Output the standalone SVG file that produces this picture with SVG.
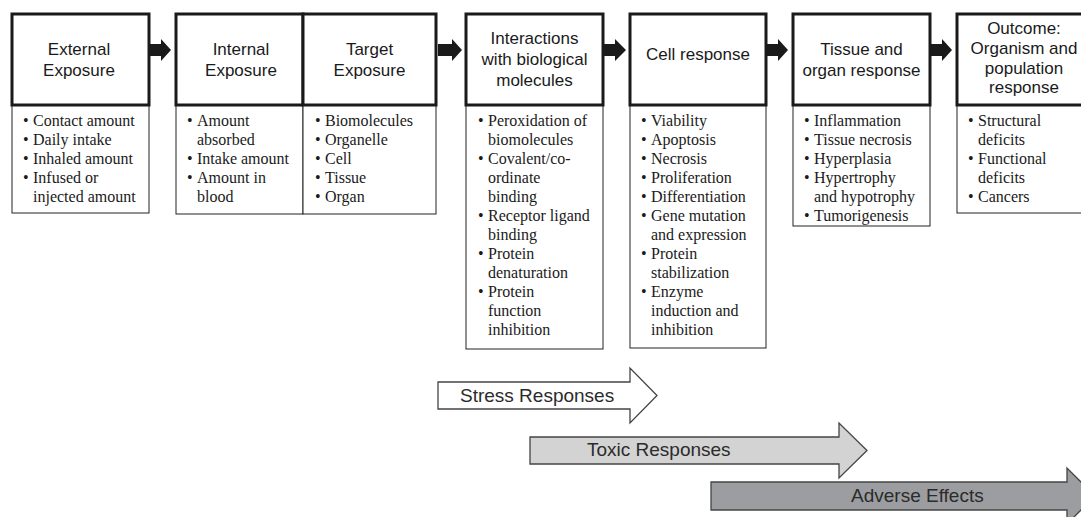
<svg xmlns="http://www.w3.org/2000/svg" width="1081" height="517" viewBox="0 0 1081 517">
<style>
.head{fill:#fff;stroke:#1a1a1a;stroke-width:3}
.list{fill:#fff;stroke:#222;stroke-width:1}
.ht{font-family:"Liberation Sans",Arial,sans-serif;font-size:17px;fill:#1a1a1a;text-anchor:middle}
.lt{font-family:"Liberation Serif","Times New Roman",serif;font-size:16px;fill:#1a1a1a}
.conn{fill:#1a1a1a;stroke:none}
.band{stroke:#444;stroke-width:1.3}
.bt{font-family:"Liberation Sans",Arial,sans-serif;font-size:19px;fill:#2b2b2b}
</style>
<rect width="1081" height="517" fill="#fff"/>

<g id="connectors">
<path class="conn" d="M150,44H161V39L171,50L161,61V56H150Z"/>
<path class="conn" d="M438,44H452V39L462,50L452,61V56H438Z"/>
<path class="conn" d="M604,44H615V39L626,50L615,61V56H604Z"/>
<path class="conn" d="M767,44H778V39L788,50L778,61V56H767Z"/>
<path class="conn" d="M931,44H942V39L952,50L942,61V56H931Z"/>
</g>

<g id="external-exposure">
<rect class="list" x="12" y="105" width="137" height="108"/>
<rect class="head" x="12" y="14" width="137" height="91"/>
<text class="ht" x="79" y="55">External</text>
<text class="ht" x="79" y="76">Exposure</text>
<g class="lt">
<text x="23" y="126">•</text><text x="33" y="126">Contact amount</text>
<text x="23" y="145">•</text><text x="33" y="145">Daily intake</text>
<text x="23" y="164">•</text><text x="33" y="164">Inhaled amount</text>
<text x="23" y="183">•</text><text x="33" y="183">Infused or</text>
<text x="33" y="202">injected amount</text>
</g>
</g>

<g id="internal-exposure">
<rect class="list" x="176" y="105" width="127" height="109"/>
<rect class="head" x="176" y="14" width="127" height="91"/>
<text class="ht" x="241" y="55">Internal</text>
<text class="ht" x="241" y="76">Exposure</text>
<g class="lt">
<text x="187" y="126">•</text><text x="197" y="126">Amount</text>
<text x="197" y="145">absorbed</text>
<text x="187" y="164">•</text><text x="197" y="164">Intake amount</text>
<text x="187" y="183">•</text><text x="197" y="183">Amount in</text>
<text x="197" y="202">blood</text>
</g>
</g>

<g id="target-exposure">
<rect class="list" x="303" y="105" width="133" height="109"/>
<rect class="head" x="303" y="14" width="133" height="91"/>
<text class="ht" x="369.5" y="55">Target</text>
<text class="ht" x="369.5" y="76">Exposure</text>
<g class="lt">
<text x="315" y="126">•</text><text x="325" y="126">Biomolecules</text>
<text x="315" y="145">•</text><text x="325" y="145">Organelle</text>
<text x="315" y="164">•</text><text x="325" y="164">Cell</text>
<text x="315" y="183">•</text><text x="325" y="183">Tissue</text>
<text x="315" y="202">•</text><text x="325" y="202">Organ</text>
</g>
</g>

<g id="interactions">
<rect class="list" x="466" y="105" width="137" height="244"/>
<rect class="head" x="466" y="14" width="137" height="91"/>
<text class="ht" x="534.5" y="44">Interactions</text>
<text class="ht" x="534.5" y="65">with biological</text>
<text class="ht" x="534.5" y="86">molecules</text>
<g class="lt">
<text x="478" y="126">•</text><text x="488" y="126">Peroxidation of</text>
<text x="488" y="145">biomolecules</text>
<text x="478" y="164">•</text><text x="488" y="164">Covalent/co-</text>
<text x="488" y="183">ordinate</text>
<text x="488" y="202">binding</text>
<text x="478" y="221">•</text><text x="488" y="221">Receptor ligand</text>
<text x="488" y="240">binding</text>
<text x="478" y="259">•</text><text x="488" y="259">Protein</text>
<text x="488" y="278">denaturation</text>
<text x="478" y="297">•</text><text x="488" y="297">Protein</text>
<text x="488" y="316">function</text>
<text x="488" y="335">inhibition</text>
</g>
</g>

<g id="cell-response">
<rect class="list" x="630" y="105" width="136" height="243"/>
<rect class="head" x="630" y="14" width="136" height="91"/>
<text class="ht" x="698" y="60">Cell response</text>
<g class="lt">
<text x="641" y="126">•</text><text x="651" y="126">Viability</text>
<text x="641" y="145">•</text><text x="651" y="145">Apoptosis</text>
<text x="641" y="164">•</text><text x="651" y="164">Necrosis</text>
<text x="641" y="183">•</text><text x="651" y="183">Proliferation</text>
<text x="641" y="202">•</text><text x="651" y="202">Differentiation</text>
<text x="641" y="221">•</text><text x="651" y="221">Gene mutation</text>
<text x="651" y="240">and expression</text>
<text x="641" y="259">•</text><text x="651" y="259">Protein</text>
<text x="651" y="278">stabilization</text>
<text x="641" y="297">•</text><text x="651" y="297">Enzyme</text>
<text x="651" y="316">induction and</text>
<text x="651" y="335">inhibition</text>
</g>
</g>

<g id="tissue-organ-response">
<rect class="list" x="793" y="105" width="137" height="121"/>
<rect class="head" x="793" y="14" width="137" height="91"/>
<text class="ht" x="861.5" y="55">Tissue and</text>
<text class="ht" x="861.5" y="76">organ response</text>
<g class="lt">
<text x="804" y="126">•</text><text x="814" y="126">Inflammation</text>
<text x="804" y="145">•</text><text x="814" y="145">Tissue necrosis</text>
<text x="804" y="164">•</text><text x="814" y="164">Hyperplasia</text>
<text x="804" y="183">•</text><text x="814" y="183">Hypertrophy</text>
<text x="814" y="202">and hypotrophy</text>
<text x="804" y="221">•</text><text x="814" y="221">Tumorigenesis</text>
</g>
</g>

<g id="outcome">
<rect class="list" x="957" y="105" width="137" height="108"/>
<rect class="head" x="957" y="14" width="137" height="91"/>
<text class="ht" x="1024" y="34">Outcome:</text>
<text class="ht" x="1024" y="54">Organism and</text>
<text class="ht" x="1024" y="74">population</text>
<text class="ht" x="1024" y="93">response</text>
<g class="lt">
<text x="968" y="126">•</text><text x="978" y="126">Structural</text>
<text x="978" y="145">deficits</text>
<text x="968" y="164">•</text><text x="978" y="164">Functional</text>
<text x="978" y="183">deficits</text>
<text x="968" y="202">•</text><text x="978" y="202">Cancers</text>
</g>
</g>

<g id="stress-responses">
<path class="band" fill="#ffffff" d="M438,382H630V368L657,395.5L630,423V409H438Z"/>
<text class="bt" x="460" y="402">Stress Responses</text>
</g>
<g id="toxic-responses">
<path class="band" fill="#d3d3d3" d="M530,437H839V423L867,450.5L839,478V464H530Z"/>
<text class="bt" x="587" y="456">Toxic Responses</text>
</g>
<g id="adverse-effects">
<path class="band" fill="#9c9da0" d="M711,482H1067V468L1095,496L1067,524V510H711Z"/>
<text class="bt" x="851" y="502">Adverse Effects</text>
</g>
</svg>
